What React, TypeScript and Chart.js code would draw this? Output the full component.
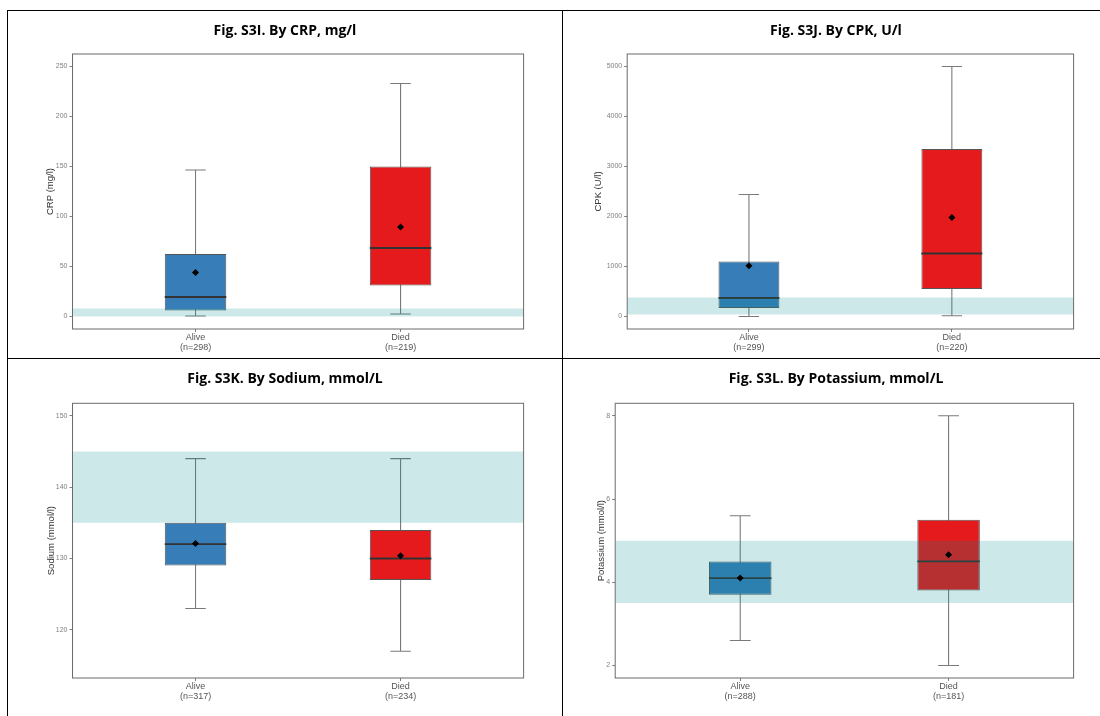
import React, { useEffect, useRef } from "react";
import { Chart, registerables } from "chart.js";

Chart.register(...registerables);

// ---------- data ----------
const groups = ["Alive", "Died"];

const crpN = [298, 219];
const crpLow = [0.5, 2.5];
const crpQ1 = [6, 31];
const crpMedian = [19.5, 68.5];
const crpQ3 = [62.5, 150];
const crpHigh = [146.5, 233];
const crpMean = [44, 89.5];
const crpNormal = [0, 8];
const crpTicks = [0, 50, 100, 150, 200, 250];

const cpkN = [299, 220];
const cpkLow = [0, 15];
const cpkQ1 = [170, 550];
const cpkMedian = [370, 1260];
const cpkQ3 = [1100, 3350];
const cpkHigh = [2440, 5000];
const cpkMean = [1015, 1980];
const cpkNormal = [40, 380];
const cpkTicks = [0, 1000, 2000, 3000, 4000, 5000];

const naN = [317, 234];
const naLow = [123, 117];
const naQ1 = [129, 127];
const naMedian = [132, 130];
const naQ3 = [135, 134];
const naHigh = [144, 144];
const naMean = [132.1, 130.4];
const naNormal = [135, 145];
const naTicks = [120, 130, 140, 150];

const kN = [288, 181];
const kLow = [2.6, 2];
const kQ1 = [3.7, 3.8];
const kMedian = [4.1, 4.5];
const kQ3 = [4.5, 5.5];
const kHigh = [5.6, 8];
const kMean = [4.1, 4.66];
const kNormal = [3.5, 5];
const kTicks = [2, 4, 6, 8];

// ---------- styling / layout ----------
const groupColors = ["#377EB8", "#E41A1C"];
const BAND_COLOR = "rgba(0,139,139,0.2)";
const X_MIN = 0.4;
const X_MAX = 2.6;
const BOX_W = 0.3;
const CAP_W = 0.1;
const positions = groups.map((_, i) => i + 1);

type Panel = {
  title: string;
  yTitle: string;
  n: number[];
  low: number[];
  q1: number[];
  median: number[];
  q3: number[];
  high: number[];
  mean: number[];
  normal: number[];
  ticks: number[];
  yMin: number;
  yMax: number;
  cell: { left: number; top: number; width: number; height: number };
  plot: { left: number; right: number; top: number; bottom: number };
  yTitleX: number;
};

const panels: Panel[] = [
  {
    title: "Fig. S3I. By CRP, mg/l",
    yTitle: "CRP (mg/l)",
    n: crpN, low: crpLow, q1: crpQ1, median: crpMedian, q3: crpQ3, high: crpHigh, mean: crpMean,
    normal: crpNormal, ticks: crpTicks, yMin: -12.5, yMax: 262.5,
    cell: { left: 8, top: 11, width: 554, height: 347 },
    plot: { left: 72.5, right: 523.6, top: 54, bottom: 329 },
    yTitleX: 50.5,
  },
  {
    title: "Fig. S3J. By CPK, U/l",
    yTitle: "CPK (U/l)",
    n: cpkN, low: cpkLow, q1: cpkQ1, median: cpkMedian, q3: cpkQ3, high: cpkHigh, mean: cpkMean,
    normal: cpkNormal, ticks: cpkTicks, yMin: -250, yMax: 5250,
    cell: { left: 563, top: 11, width: 546, height: 347 },
    plot: { left: 627.2, right: 1073.6, top: 54, bottom: 329 },
    yTitleX: 598,
  },
  {
    title: "Fig. S3K. By Sodium, mmol/L",
    yTitle: "Sodium (mmol/l)",
    n: naN, low: naLow, q1: naQ1, median: naMedian, q3: naQ3, high: naHigh, mean: naMean,
    normal: naNormal, ticks: naTicks, yMin: 113.25, yMax: 151.75,
    cell: { left: 8, top: 359, width: 554, height: 357 },
    plot: { left: 72.5, right: 523.6, top: 403.3, bottom: 678 },
    yTitleX: 51,
  },
  {
    title: "Fig. S3L. By Potassium, mmol/L",
    yTitle: "Potassium (mmol/l)",
    n: kN, low: kLow, q1: kQ1, median: kMedian, q3: kQ3, high: kHigh, mean: kMean,
    normal: kNormal, ticks: kTicks, yMin: 1.7, yMax: 8.3,
    cell: { left: 563, top: 359, width: 546, height: 357 },
    plot: { left: 615.2, right: 1073.6, top: 403.3, bottom: 678 },
    yTitleX: 601.6,
  },
];

const panelBorder = {
  id: "panelBorder",
  afterDatasetsDraw(chart: any) {
    const { ctx, chartArea } = chart;
    ctx.save();
    ctx.strokeStyle = "#6b6b6b";
    ctx.lineWidth = 1;
    ctx.strokeRect(chartArea.left, chartArea.top, chartArea.right - chartArea.left, chartArea.bottom - chartArea.top);
    ctx.restore();
  },
};

function buildChart(canvas: HTMLCanvasElement, p: Panel) {
  const W = p.cell.width;
  const H = p.cell.height;
  const L = p.plot.left - p.cell.left;
  const R = p.plot.right - p.cell.left;
  const T = p.plot.top - p.cell.top;
  const B = p.plot.bottom - p.cell.top;

  const titleSize = 14;
  const titleLH = 1.2;
  const titleCenter = 20;
  const titlePadTop = titleCenter - (titleSize * titleLH) / 2;
  const titlePadBottom = T - titlePadTop - titleSize * titleLH;

  const yTitleSize = 9.5;
  const yTitlePad = p.yTitleX - p.cell.left - (yTitleSize * 1.2) / 2;

  const whiskers: any[] = [];
  const medians: any[] = [];
  positions.forEach((x, i) => {
    whiskers.push(
      { x, y: p.low[i] }, { x, y: p.high[i] }, { x, y: null },
      { x: x - CAP_W / 2, y: p.high[i] }, { x: x + CAP_W / 2, y: p.high[i] }, { x, y: null },
      { x: x - CAP_W / 2, y: p.low[i] }, { x: x + CAP_W / 2, y: p.low[i] }, { x, y: null }
    );
    medians.push({ x: x - BOX_W / 2, y: p.median[i] }, { x: x + BOX_W / 2, y: p.median[i] }, { x, y: null });
  });

  return new Chart(canvas, {
    type: "bar",
    data: {
      datasets: [
        {
          type: "line",
          data: whiskers,
          borderColor: "#7a7a7a",
          borderWidth: 1.1,
          pointRadius: 0,
          fill: false,
          order: 5,
        } as any,
        {
          type: "bar",
          data: positions.map((x, i) => ({ x, y: [p.q1[i], p.q3[i]] })),
          backgroundColor: groupColors,
          borderColor: "#555555",
          borderWidth: 1,
          borderSkipped: false,
          barPercentage: BOX_W,
          categoryPercentage: 1,
          order: 4,
        } as any,
        {
          type: "line",
          data: medians,
          borderColor: "#333333",
          borderWidth: 1.8,
          pointRadius: 0,
          fill: false,
          order: 3,
        } as any,
        {
          type: "line",
          data: [{ x: X_MIN, y: p.normal[0] }, { x: X_MAX, y: p.normal[0] }],
          borderWidth: 0,
          borderColor: "rgba(0,0,0,0)",
          pointRadius: 0,
          fill: false,
          order: 2,
        } as any,
        {
          type: "line",
          data: [{ x: X_MIN, y: p.normal[1] }, { x: X_MAX, y: p.normal[1] }],
          borderWidth: 0,
          borderColor: "rgba(0,0,0,0)",
          backgroundColor: BAND_COLOR,
          pointRadius: 0,
          fill: "-1",
          order: 2,
        } as any,
        {
          type: "scatter",
          data: positions.map((x, i) => ({ x, y: p.mean[i] })),
          pointStyle: "rectRot",
          pointRadius: 3.5,
          backgroundColor: "#000000",
          borderColor: "#000000",
          borderWidth: 0,
          order: 1,
        } as any,
      ],
    },
    options: {
      responsive: false,
      animation: false,
      events: [],
      layout: { padding: 0 },
      font: { family: "'Liberation Sans', Arial, sans-serif" },
      plugins: {
        legend: { display: false },
        tooltip: { enabled: false },
        title: {
          display: true,
          text: p.title,
          color: "#000000",
          font: { family: "'Open Sans'", weight: "bold", size: titleSize, lineHeight: titleLH },
          padding: { top: titlePadTop, bottom: titlePadBottom },
        },
      },
      scales: {
        x: {
          type: "linear",
          min: X_MIN,
          max: X_MAX,
          offset: false,
          afterBuildTicks: (s: any) => {
            s.ticks = positions.map((v) => ({ value: v }));
          },
          afterFit: (s: any) => {
            s.height = H - B;
          },
          ticks: {
            autoSkip: false,
            maxRotation: 0,
            padding: 0,
            color: "#555555",
            font: { family: "'Liberation Sans', Arial, sans-serif", size: 9, lineHeight: 1.15 },
            callback: (v: any) => {
              const i = positions.indexOf(Number(v));
              return i < 0 ? "" : [groups[i], `(n=${p.n[i]})`];
            },
          },
          grid: { drawOnChartArea: false, drawTicks: true, tickLength: 3, color: "#7f7f7f", offset: false },
          border: { display: false },
        },
        y: {
          type: "linear",
          position: "left",
          min: p.yMin,
          max: p.yMax,
          afterBuildTicks: (s: any) => {
            s.ticks = p.ticks.map((v) => ({ value: v }));
          },
          afterFit: (s: any) => {
            s.width = L;
          },
          ticks: {
            padding: 2,
            color: "#7f7f7f",
            font: { family: "'Liberation Sans', Arial, sans-serif", size: 7 },
            callback: (v: any) => String(v),
          },
          grid: { drawOnChartArea: false, drawTicks: true, tickLength: 3, color: "#7f7f7f" },
          border: { display: false },
          title: {
            display: true,
            text: p.yTitle,
            color: "#333333",
            font: { family: "'Liberation Sans', Arial, sans-serif", size: yTitleSize, lineHeight: 1.2 },
            padding: { top: yTitlePad, bottom: 0 },
          },
        },
        y2: {
          type: "linear",
          position: "right",
          display: true,
          ticks: { display: false },
          grid: { display: false, drawTicks: false },
          border: { display: false },
          afterFit: (s: any) => {
            s.width = W - R;
          },
        },
      },
    } as any,
    plugins: [panelBorder],
  });
}

function PanelChart({ p }: { p: Panel }) {
  const ref = useRef<HTMLCanvasElement | null>(null);
  useEffect(() => {
    if (!ref.current) return;
    const chart = buildChart(ref.current, p);
    return () => chart.destroy();
  }, [p]);
  return (
    <canvas
      ref={ref}
      width={p.cell.width}
      height={p.cell.height}
      style={{
        position: "absolute",
        left: p.cell.left,
        top: p.cell.top,
        width: p.cell.width,
        height: p.cell.height,
      }}
    />
  );
}

const line = (s: React.CSSProperties): React.CSSProperties => ({
  position: "absolute",
  background: "#000000",
  ...s,
});

export default function App() {
  return (
    <div
      style={{
        position: "absolute",
        left: 0,
        top: 0,
        width: 1100,
        height: 716,
        overflow: "hidden",
        background: "#ffffff",
      }}
    >
      {panels.map((p, i) => (
        <PanelChart key={i} p={p} />
      ))}
      <div style={line({ left: 7, top: 10, width: 1110, height: 1 })} />
      <div style={line({ left: 7, top: 10, width: 1, height: 720 })} />
      <div style={line({ left: 562, top: 10, width: 1, height: 720 })} />
      <div style={line({ left: 7, top: 358, width: 1110, height: 1 })} />
    </div>
  );
}
